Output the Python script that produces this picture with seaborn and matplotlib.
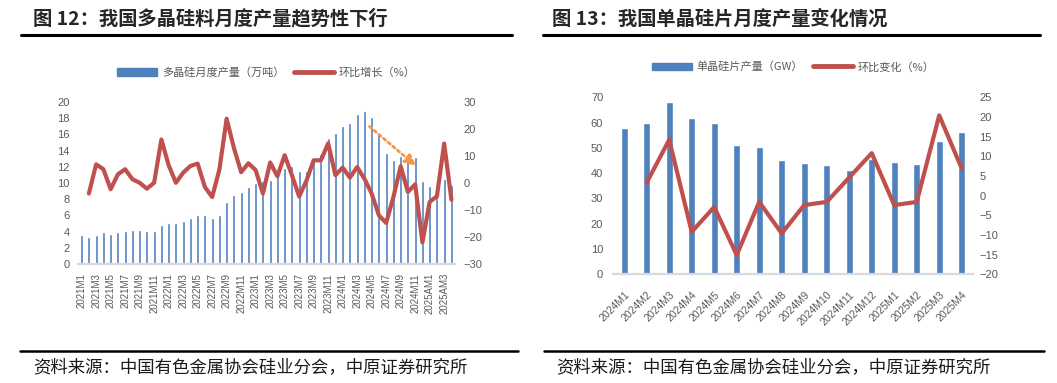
import numpy as np
import pandas as pd
import matplotlib
matplotlib.use("Agg")
import matplotlib.pyplot as plt
import seaborn as sns
from matplotlib.lines import Line2D
from matplotlib.patches import Patch

# ---------------- data ----------------
poly_months = [
    "2021M1", "2021M2", "2021M3", "2021M4", "2021M5", "2021M6", "2021M7", "2021M8",
    "2021M9", "2021M10", "2021M11", "2021M12",
    "2022M1", "2022M2", "2022M3", "2022M4", "2022M5", "2022M6", "2022M7", "2022M8",
    "2022M9", "2022M10", "2022M11", "2022M12",
    "2023M1", "2023M2", "2023M3", "2023M4", "2023M5", "2023M6", "2023M7", "2023M8",
    "2023M9", "2023M10", "2023M11", "2023M12",
    "2024M1", "2024M2", "2024M3", "2024M4", "2024M5", "2024M6", "2024M7", "2024M8",
    "2024M9", "2024M10", "2024M11", "2024M12",
    "2025AM1", "2025AM2", "2025AM3", "2025AM4",
]
poly_output = [
    3.6, 3.3, 3.6, 3.9, 3.7, 4.0, 4.1, 4.2, 4.2, 4.1, 4.1, 4.8,
    5.1, 5.1, 5.3, 5.7, 6.1, 6.1, 5.7, 6.1, 7.6, 8.55, 8.9, 9.5,
    10.0, 10.2, 10.4, 11.0, 11.9, 12.1, 11.5, 11.5, 12.6, 13.6, 15.6, 16.2,
    17.0, 17.4, 18.5, 18.9, 18.1, 16.0, 13.7, 12.9, 13.3, 13.2, 13.2, 10.2,
    9.6, 9.5, 10.5, 9.8,
]
# month-on-month growth starts at 2021M2
poly_mom = [
    -3.9, 6.9, 5.1, -2.3, 3.2, 5.1, 1.4, 0.1, -2.1, 0.1,
    16.1, 6.6, 0.1, 3.8, 6.3, 7.2, -1.5, -5.2, 5.0, 23.8,
    13.0, 4.0, 7.3, 4.8, -3.9, 7.6, 2.5, 10.3, 2.9, -5.0,
    0.8, 8.4, 8.4, 14.7, 2.9, 5.7, 2.0, 5.9, 1.6, -3.9,
    -12.0, -14.8, -5.2, 6.2, -3.3, -0.5, -22.0, -7.0, -4.9, 14.6, -6.2,
]
poly_mom_months = poly_months[1:]

wafer_months = [
    "2024M1", "2024M2", "2024M3", "2024M4", "2024M5", "2024M6", "2024M7", "2024M8",
    "2024M9", "2024M10", "2024M11", "2024M12", "2025M1", "2025M2", "2025M3", "2025M4",
]
wafer_output = [58, 60, 68, 62, 60, 51, 50.2, 45.2, 43.9, 43.1, 41.2, 45.5, 44.3, 43.5, 52.7, 56.2]
wafer_mom = [3.3, 14.2, -9.2, -2.9, -15.1, -1.6, -9.6, -2.4, -1.6, 4.6, 10.8, -2.4, -1.6, 20.4, 6.9]
wafer_mom_months = wafer_months[1:]

# ---------------- style ----------------
sns.set_style("white")
CJK = ["Noto Sans CJK SC", "DejaVu Sans"]
NUM = ["Liberation Sans", "DejaVu Sans"]
plt.rcParams["font.family"] = NUM
plt.rcParams["axes.unicode_minus"] = True

BLUE = "#4F81BD"
RED = "#C0504D"
GREY = "#595959"
AXIS = "#D9D9D9"

fig = plt.figure(figsize=(10.57, 3.83), dpi=100)


def style_axes(ax, ax2):
    for a in (ax, ax2):
        for s in a.spines.values():
            s.set_visible(False)
        a.grid(False)
    ax.spines["bottom"].set_visible(True)
    ax.spines["bottom"].set_color(AXIS)
    ax.spines["bottom"].set_linewidth(1.6)
    ax.set_xlabel("")
    ax.set_ylabel("")
    ax2.set_xlabel("")
    ax2.set_ylabel("")


def draw_panel(rect, cats, bars, mom_cats, mom, ylim, yticks, y2lim, y2ticks,
               bar_label, line_label, xstep, xrot, bar_width, lpad, rpad, xpad, xfs,
               leg_anchor):
    ax = fig.add_axes(rect)
    df = pd.DataFrame({"cat": cats, "val": bars})
    sns.barplot(data=df, x="cat", y="val", color=BLUE, saturation=1,
                width=bar_width, ax=ax)
    ax2 = ax.twinx()
    pos = [cats.index(c) for c in mom_cats]
    dfl = pd.DataFrame({"pos": pos, "mom": mom})
    sns.lineplot(data=dfl, x="pos", y="mom", color=RED, linewidth=3.0,
                 ax=ax2, legend=False)
    for ln in ax2.lines:
        ln.set_solid_joinstyle("round")
        ln.set_solid_capstyle("round")
    ax.set_xlim(-0.5, len(cats) - 0.5)
    ax.set_ylim(*ylim)
    ax.set_yticks(yticks)
    ax2.set_ylim(*y2lim)
    ax2.set_yticks(y2ticks)
    style_axes(ax, ax2)
    ticks = list(range(0, len(cats), xstep))
    ax.set_xticks(ticks)
    if xrot == 90:
        ax.set_xticklabels([cats[i] for i in ticks], rotation=90, fontsize=xfs,
                           color=GREY, family=NUM)
    else:
        ax.set_xticklabels([cats[i] for i in ticks], rotation=xrot, ha="right",
                           rotation_mode="anchor", fontsize=xfs, color=GREY, family=NUM)
    ax.tick_params(axis="x", length=0, pad=xpad)
    ax.tick_params(axis="y", length=0, pad=lpad, labelsize=8, labelcolor=GREY)
    ax2.tick_params(axis="y", length=0, pad=rpad, labelsize=8, labelcolor=GREY)
    handles = [Patch(facecolor=BLUE, edgecolor=BLUE),
               Line2D([0], [0], color=RED, lw=3.5, solid_capstyle="round")]
    ax2.legend(handles, [bar_label, line_label], loc="center",
               bbox_to_anchor=leg_anchor, ncol=2, frameon=False,
               prop={"family": CJK, "size": 8}, labelcolor=GREY,
               handlelength=3.6, handleheight=0.7, handletextpad=0.4,
               columnspacing=0.9)
    return ax, ax2


# left panel
axL, axL2 = draw_panel(
    [0.0738, 0.3107, 0.3567, 0.4230], poly_months, poly_output,
    poly_mom_months, poly_mom, (0, 20), list(range(0, 21, 2)),
    (-30, 30), list(range(-30, 31, 10)),
    "多晶硅月度产量（万吨）", "环比增长（%）", 2, 90, 0.42, 6, 6, 6.5, 7,
    (0.5, 1.18))

axL.annotate("", xy=(46.4, 11.9), xytext=(39.4, 17.2),
             arrowprops=dict(arrowstyle="-|>", linestyle=(0, (1, 1.2)),
                             color="#F79646", lw=2, mutation_scale=16))

# right panel
axR, axR2 = draw_panel(
    [0.5799, 0.2838, 0.3406, 0.4622], wafer_months, wafer_output,
    wafer_mom_months, wafer_mom, (0, 70), list(range(0, 71, 10)),
    (-20, 25), list(range(-20, 26, 5)),
    "单晶硅片产量（GW）", "环比变化（%）", 1, 45, 0.3, 7, 4.5, 11, 7.5,
    (0.5, 1.171))

# ---------------- titles, rules, sources ----------------
fig.text(33 / 1057, 1 - 19 / 383, "图 12：我国多晶硅料月度产量趋势性下行",
         family=CJK, fontsize=13.9, fontweight="bold", va="center", ha="left")
fig.text(552 / 1057, 1 - 19 / 383, "图 13：我国单晶硅片月度产量变化情况",
         family=CJK, fontsize=13.9, fontweight="bold", va="center", ha="left")

for x0, x1 in ((21, 512), (543, 1040)):
    fig.add_artist(Line2D([x0 / 1057, x1 / 1057], [1 - 35 / 383] * 2,
                          color="black", lw=2.2, transform=fig.transFigure))
for x0, x1 in ((20, 518), (544, 1044)):
    fig.add_artist(Line2D([x0 / 1057, x1 / 1057], [1 - 351 / 383] * 2,
                          color="black", lw=1.8, transform=fig.transFigure))

src = "资料来源：中国有色金属协会硅业分会，中原证券研究所"
fig.text(33 / 1057, 1 - 367 / 383, src, family=CJK, fontsize=12.5,
         va="center", ha="left", color="#1a1a1a")
fig.text(556 / 1057, 1 - 367 / 383, src, family=CJK, fontsize=12.5,
         va="center", ha="left", color="#1a1a1a")

fig.savefig("out.png", dpi=100)
